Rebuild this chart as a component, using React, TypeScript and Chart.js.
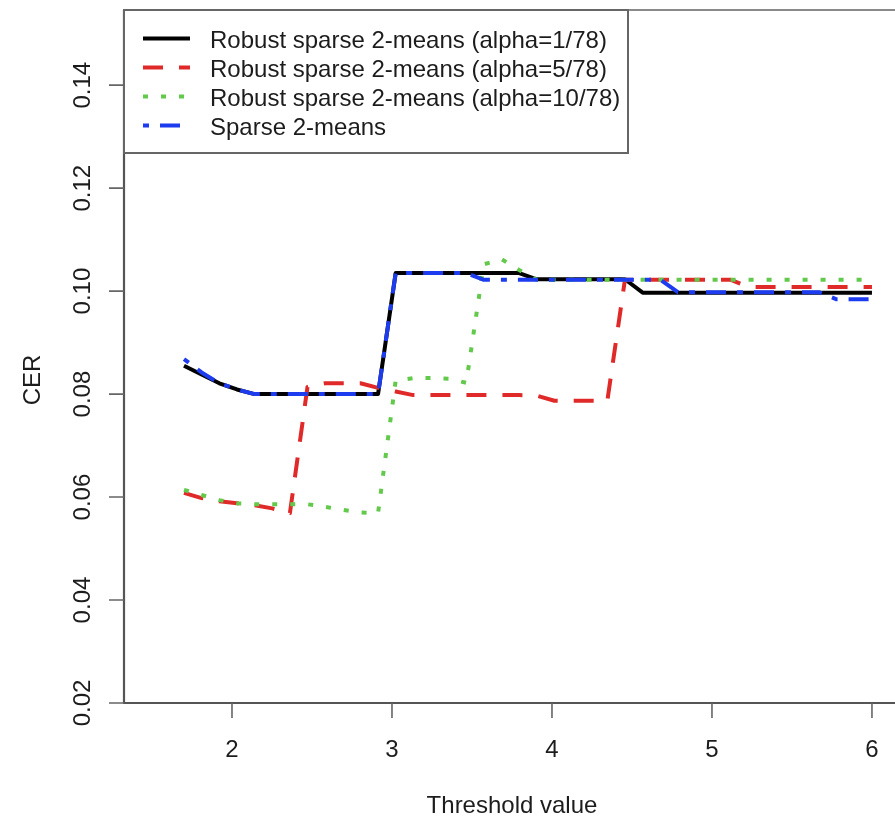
import React, { useEffect, useRef } from 'react';
import { Chart, registerables } from 'chart.js';

Chart.register(...registerables);

// ---- data ----
const xValues = [
  1.7, 1.81, 1.921, 2.031, 2.141, 2.251, 2.362, 2.472, 2.582, 2.692,
  2.803, 2.913, 3.023, 3.133, 3.244, 3.354, 3.464, 3.574, 3.685, 3.795,
  3.905, 4.015, 4.126, 4.236, 4.346, 4.456, 4.567, 4.677, 4.787, 4.897,
  5.008, 5.118, 5.228, 5.338, 5.449, 5.559, 5.669, 5.779, 5.89, 6.0,
];

const alpha1 = [
  0.0855, 0.0838, 0.0821, 0.0809, 0.08, 0.08, 0.08, 0.08, 0.08, 0.08,
  0.08, 0.08, 0.1035, 0.1035, 0.1035, 0.1035, 0.1035, 0.1035, 0.1035, 0.1035,
  0.1023, 0.1023, 0.1023, 0.1023, 0.1023, 0.1023, 0.0997, 0.0997, 0.0997, 0.0997,
  0.0997, 0.0997, 0.0997, 0.0997, 0.0997, 0.0997, 0.0997, 0.0997, 0.0997, 0.0997,
];

const alpha5 = [
  0.0608, 0.0598, 0.0592, 0.0588, 0.0584, 0.0578, 0.0569, 0.0814, 0.0821, 0.0821,
  0.0821, 0.0812, 0.0805, 0.0798, 0.0798, 0.0798, 0.0798, 0.0798, 0.0798, 0.0798,
  0.0797, 0.0787, 0.0787, 0.0787, 0.0787, 0.1022, 0.1022, 0.1022, 0.1022, 0.1022,
  0.1022, 0.1022, 0.1008, 0.1008, 0.1008, 0.1008, 0.1008, 0.1008, 0.1008, 0.1008,
];

const alpha10 = [
  0.0614, 0.0604, 0.0594, 0.0588, 0.0586, 0.0586, 0.0586, 0.0586, 0.0581, 0.0575,
  0.057, 0.0569, 0.0826, 0.0831, 0.0831, 0.083, 0.0822, 0.1052, 0.1062, 0.1041,
  0.1022, 0.1022, 0.1022, 0.1022, 0.1022, 0.1022, 0.1022, 0.1022, 0.1022, 0.1022,
  0.1022, 0.1022, 0.1022, 0.1022, 0.1022, 0.1022, 0.1022, 0.1022, 0.1022, 0.1022,
];

const sparse = [
  0.0868, 0.0842, 0.0821, 0.0809, 0.08, 0.08, 0.08, 0.08, 0.08, 0.08,
  0.08, 0.08, 0.1035, 0.1035, 0.1035, 0.1035, 0.1035, 0.1022, 0.1022, 0.1022,
  0.1022, 0.1022, 0.1022, 0.1022, 0.1022, 0.1022, 0.1022, 0.1022, 0.0998, 0.0998,
  0.0998, 0.0998, 0.0998, 0.0998, 0.0998, 0.0998, 0.0998, 0.0984, 0.0984, 0.0984,
];

const seriesLabels = [
  'Robust sparse 2-means (alpha=1/78)',
  'Robust sparse 2-means (alpha=5/78)',
  'Robust sparse 2-means (alpha=10/78)',
  'Sparse 2-means',
];

const yTicks = [0.02, 0.04, 0.06, 0.08, 0.1, 0.12, 0.14];
const yTickLabels = ['0.02', '0.04', '0.06', '0.08', '0.10', '0.12', '0.14'];
const xTicks = [2, 3, 4, 5, 6];
const xTickLabels = ['2', '3', '4', '5', '6'];
const xTitle = 'Threshold value';
const yTitle = 'CER';

const FONT = '24px "Liberation Sans", Arial, sans-serif';
const TEXT = '#1c1c1c';
const AXIS = '#555555';

const styles = [
  { color: '#000000', dash: [] as number[], cap: 'butt' },
  { color: '#e02a2a', dash: [20, 16], cap: 'butt' },
  { color: '#62c94b', dash: [5, 13], cap: 'butt' },
  { color: '#1d3cf0', dash: [6, 11, 20, 11], cap: 'butt' },
];

const seriesValues = [alpha1, alpha5, alpha10, sparse];

const axesPlugin = {
  id: 'rAxes',
  afterDatasetsDraw(chart: any) {
    const { ctx, chartArea, scales } = chart;
    const xs = scales.x;
    const ys = scales.y;
    ctx.save();
    ctx.setLineDash([]);
    // top border (lighter)
    ctx.strokeStyle = '#8a8a8a';
    ctx.lineWidth = 2.2;
    ctx.beginPath();
    ctx.moveTo(chartArea.right + 2, chartArea.top);
    ctx.lineTo(chartArea.left, chartArea.top);
    ctx.stroke();
    // left + bottom
    ctx.strokeStyle = AXIS;
    ctx.beginPath();
    ctx.moveTo(chartArea.left, chartArea.top);
    ctx.lineTo(chartArea.left, chartArea.bottom);
    ctx.lineTo(chartArea.right + 2, chartArea.bottom);
    ctx.stroke();

    // ticks
    ctx.strokeStyle = '#666666';
    ctx.lineWidth = 1.6;
    ctx.beginPath();
    yTicks.forEach((v) => {
      const y = ys.getPixelForValue(v);
      ctx.moveTo(chartArea.left, y);
      ctx.lineTo(chartArea.left - 15, y);
    });
    xTicks.forEach((v) => {
      const x = xs.getPixelForValue(v);
      ctx.moveTo(x, chartArea.bottom);
      ctx.lineTo(x, chartArea.bottom + 15);
    });
    ctx.stroke();

    ctx.fillStyle = TEXT;
    ctx.font = FONT;
    ctx.textAlign = 'center';
    ctx.textBaseline = 'alphabetic';
    // y tick labels (rotated)
    yTicks.forEach((v, i) => {
      const y = ys.getPixelForValue(v);
      ctx.save();
      ctx.translate(chartArea.left - 34, y);
      ctx.rotate(-Math.PI / 2);
      ctx.fillText(yTickLabels[i], 0, 0);
      ctx.restore();
    });
    // x tick labels
    xTicks.forEach((v, i) => {
      const x = xs.getPixelForValue(v);
      ctx.fillText(xTickLabels[i], x, chartArea.bottom + 54);
    });
    // titles
    ctx.fillText(xTitle, 512, chartArea.bottom + 110);
    ctx.save();
    ctx.translate(40, 380);
    ctx.rotate(-Math.PI / 2);
    ctx.fillText(yTitle, 0, 0);
    ctx.restore();
    ctx.restore();
  },
};

const legendPlugin = {
  id: 'rLegend',
  afterDraw(chart: any) {
    const { ctx, chartArea } = chart;
    const left = chartArea.left;
    const top = chartArea.top;
    const w = 504;
    const h = 143;
    ctx.save();
    ctx.fillStyle = '#ffffff';
    ctx.fillRect(left, top, w, h);
    ctx.strokeStyle = '#666666';
    ctx.lineWidth = 2;
    ctx.setLineDash([]);
    ctx.strokeRect(left, top, w, h);
    seriesLabels.forEach((label, i) => {
      const y = top + 28.5 + i * 29;
      const st = styles[i];
      ctx.strokeStyle = st.color;
      ctx.lineWidth = 4;
      ctx.lineCap = st.cap as CanvasLineCap;
      ctx.setLineDash(st.dash);
      ctx.beginPath();
      ctx.moveTo(left + 19, y);
      ctx.lineTo(left + 66, y);
      ctx.stroke();
      ctx.setLineDash([]);
      ctx.fillStyle = TEXT;
      ctx.font = FONT;
      ctx.textAlign = 'left';
      ctx.textBaseline = 'alphabetic';
      ctx.fillText(label, left + 86, y + 9.5);
    });
    ctx.restore();
  },
};

export default function App() {
  const ref = useRef<HTMLCanvasElement | null>(null);
  useEffect(() => {
    document.body.style.margin = '0';
    const canvas = ref.current;
    if (!canvas) return;
    const datasets = seriesValues.map((vals, i) => ({
      label: seriesLabels[i],
      data: xValues.map((x, j) => ({ x, y: vals[j] })),
      borderColor: styles[i].color,
      backgroundColor: styles[i].color,
      borderWidth: 4,
      borderDash: styles[i].dash,
      borderCapStyle: styles[i].cap,
      borderJoinStyle: 'round',
      pointRadius: 0,
      tension: 0,
      fill: false,
      order: 4 - i,
    }));
    const chart = new Chart(canvas, {
      type: 'line',
      data: { datasets } as any,
      options: {
        responsive: false,
        animation: false,
        layout: { padding: { left: 124, top: 10, right: 0, bottom: 118 } },
        scales: {
          x: { type: 'linear', min: 1.325, max: 6.144, display: false },
          y: { type: 'linear', min: 0.02, max: 0.1546, display: false },
        },
        plugins: { legend: { display: false }, tooltip: { enabled: false } },
      } as any,
      plugins: [axesPlugin, legendPlugin],
    });
    return () => chart.destroy();
  }, []);
  return (
    <div style={{ width: 895, height: 821, background: '#fff' }}>
      <canvas ref={ref} width={895} height={821} style={{ display: 'block' }} />
    </div>
  );
}
